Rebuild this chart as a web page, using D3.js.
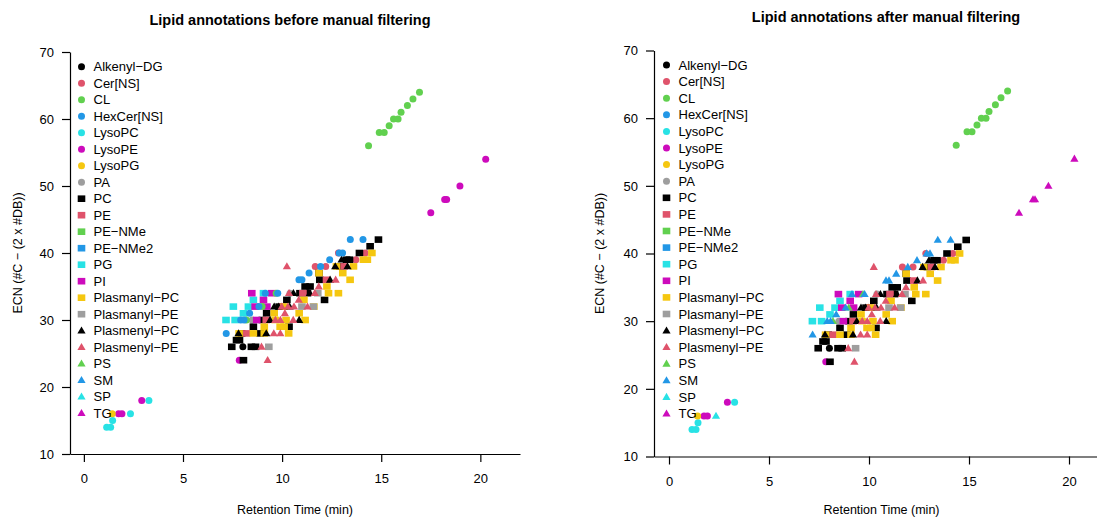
<!DOCTYPE html>
<html>
<head>
<meta charset="utf-8">
<script src="https://cdn.jsdelivr.net/npm/d3@7"></script>
<style>
body { margin: 0; background: #fff; }
text { font-family: "Liberation Sans", Arial, sans-serif; }
</style>
</head>
<body>
<script>
// Lipid annotations: [retention time (min), ECN] per class (after manual filtering)
var alkenylDG = [[8.02, 26]];
var cerNS = [[11.67, 38], [12.2, 38], [12.84, 40], [13.72, 39], [14.19, 40]];
var cl = [[14.36, 56], [14.9, 58], [15.15, 58], [15.4, 59], [15.62, 60], [15.85, 60], [16.0, 61], [16.32, 62], [16.6, 63], [16.93, 64]];
var hexCerNS = [];
var lysoPC = [[1.15, 14], [1.35, 14], [1.45, 15], [3.28, 18]];
var lysoPE = [[1.75, 16], [1.92, 16], [2.92, 18], [7.84, 24]];
var lysoPG = [[1.43, 16]];
var pa = [[10.4, 34], [8.49, 30]];
var pc = [[14.86, 42], [14.44, 41], [13.9, 40], [13.25, 39], [13.4, 39], [12.92, 38], [11.86, 37], [11.9, 36],
  [11.16, 35], [11.41, 35], [10.9, 34], [11.28, 34], [10.24, 33], [12.14, 33], [9.85, 32], [9.22, 31],
  [9.0, 30], [8.55, 29], [10.35, 29], [7.96, 28], [8.89, 28], [7.7, 27], [7.85, 27], [7.46, 26],
  [8.45, 26], [8.66, 26], [8.05, 24]];
var pe = [[13.13, 38], [12.24, 36], [11.05, 34], [9.2, 30], [8.2, 28], [10.0, 32]];
var peNMe = [];
var peNMe2 = [];
var pg = [[9.06, 34], [8.55, 33], [7.54, 32], [8.3, 32], [8.05, 31], [7.17, 30], [7.63, 30]];
var pi = [[8.47, 34], [9.48, 34], [9.06, 33], [8.64, 32], [9.23, 32], [8.72, 30]];
var plasmanylPC = [[14.53, 40], [14.1, 39], [14.3, 39], [13.6, 38], [12.74, 38], [13.06, 37], [11.86, 37],
  [13.43, 36], [12.26, 35], [12.34, 34], [12.84, 34], [11.1, 33], [10.1, 32], [11.6, 32], [9.6, 31],
  [10.86, 31], [9.65, 30], [10.2, 30], [11.16, 30], [9.1, 29], [9.9, 29], [10.1, 29], [7.83, 28],
  [8.55, 28], [9.1, 28], [10.33, 28]];
var plasmanylPE = [[9.33, 26], [11.0, 32], [11.58, 32], [11.8, 34]];
var plasmenylPC = [[13.0, 39], [12.68, 38], [13.3, 38], [12.42, 36], [10.57, 34], [11.4, 34], [9.6, 32],
  [9.83, 32], [10.38, 32], [9.39, 30], [10.86, 30], [7.8, 28], [9.2, 28]];
var plasmenylPE = [[10.24, 38], [12.7, 36], [11.85, 35], [10.35, 34], [11.65, 34], [10.84, 33], [9.98, 32],
  [10.3, 32], [10.6, 32], [11.28, 32], [10.14, 31], [9.66, 30], [9.91, 30], [10.56, 30], [9.58, 28],
  [9.91, 28], [8.96, 26], [9.27, 24]];
var ps = [[9.7, 34], [8.99, 32], [8.2, 30]];
var sm = [[13.44, 42], [14.08, 42], [12.88, 40], [13.05, 40], [12.4, 39], [11.94, 38], [11.36, 37],
  [10.85, 36], [11.0, 36], [9.15, 34], [9.78, 34], [8.83, 32], [8.36, 31], [7.91, 30], [8.08, 30], [7.18, 28]];
var sp = [[2.35, 16]];
var tg = [[17.5, 46], [18.2, 48], [18.3, 48], [18.97, 50], [20.27, 54]];

var classNames = ["Alkenyl\u2212DG", "Cer[NS]", "CL", "HexCer[NS]", "LysoPC", "LysoPE", "LysoPG", "PA",
  "PC", "PE", "PE\u2212NMe", "PE\u2212NMe2", "PG", "PI", "Plasmanyl\u2212PC", "Plasmanyl\u2212PE",
  "Plasmenyl\u2212PC", "Plasmenyl\u2212PE", "PS", "SM", "SP", "TG"];
var classData = [alkenylDG, cerNS, cl, hexCerNS, lysoPC, lysoPE, lysoPG, pa, pc, pe, peNMe, peNMe2, pg, pi,
  plasmanylPC, plasmanylPE, plasmenylPC, plasmenylPE, ps, sm, sp, tg];

// before filtering these were annotated as another class
var beforeLabel = { "SM": "HexCer[NS]", "TG": "LysoPE", "SP": "LysoPC", "PS": "CL" };

var xTicks = [0, 5, 10, 15, 20];
var yTicks = [10, 20, 30, 40, 50, 60, 70];

var pal = ["#000000", "#DF536B", "#61D04F", "#2297E6", "#28E2E5", "#CD0BBC", "#F5C710", "#9E9E9E"];
function shapeOf(i) { return i < 8 ? "circle" : (i < 16 ? "square" : "triangle"); }
function colorOf(i) { return pal[i % 8]; }

var w = 1097, h = 518;
var svg = d3.select("body").append("svg").attr("width", w).attr("height", h);

function mark(sel, shape, color) {
  if (shape == "circle") {
    sel.append("circle").attr("r", 3.5).attr("fill", color);
  } else if (shape == "square") {
    sel.append("rect").attr("x", -3.8).attr("y", -3.3).attr("width", 7.6).attr("height", 6.6).attr("fill", color);
  } else {
    sel.append("path").attr("d", "M0,-4.2L4.1,2.9L-4.1,2.9Z").attr("fill", color);
  }
}

function panel(o) {
  var x = d3.scaleLinear().domain(o.xd).range(o.xr);
  var y = d3.scaleLinear().domain([10, 70]).range(o.yr);
  var g = svg.append("g");

  // points
  var plain = classNames.map(function(c) { return c.replace(/\u2212/g, "-"); });
  var pts = [];
  classData.forEach(function(arr, i) {
    var idx = i;
    if (o.before && beforeLabel[plain[i]]) idx = plain.indexOf(beforeLabel[plain[i]]);
    arr.forEach(function(d) { pts.push({ rt: d[0], ecn: d[1], c: idx }); });
  });
  pts.forEach(function(p) {
    var s = g.append("g").attr("transform", "translate(" + x(p.rt) + "," + y(p.ecn) + ")");
    mark(s, shapeOf(p.c), colorOf(p.c));
  });

  // axes
  var ax = g.append("g").attr("transform", "translate(0," + y(10) + ")")
    .call(d3.axisBottom(x).tickValues(xTicks).tickSize(8).tickSizeOuter(0).tickPadding(12));
  var ay = g.append("g").attr("transform", "translate(" + o.xr[0] + ",0)")
    .call(d3.axisLeft(y).tickValues(yTicks).tickSize(8).tickSizeOuter(0).tickPadding(8));
  [ax, ay].forEach(function(a) {
    a.selectAll("text").attr("font-size", 13).attr("fill", "#000")
      .attr("font-family", "Liberation Sans, Arial, sans-serif");
    a.selectAll("line,path").attr("stroke", "#000").attr("stroke-width", 1.2);
  });

  // titles
  g.append("text").attr("x", o.tx).attr("y", o.ty).attr("text-anchor", "middle")
    .attr("font-size", 14.5).attr("font-weight", "bold").text(o.title);
  g.append("text").attr("x", (o.xr[0] + x(22)) / 2).attr("y", o.xly).attr("text-anchor", "middle")
    .attr("font-size", 12.5).text("Retention Time (min)");
  g.append("text").attr("transform", "translate(" + o.ylx + "," + ((o.yr[0] + o.yr[1]) / 2) + ") rotate(-90)")
    .attr("text-anchor", "middle").attr("font-size", 12.5).text("ECN  (#C \u2212 (2 x #DB))");

  // legend
  classNames.forEach(function(n, i) {
    var ly = o.ly0 + i * o.lstep;
    var s = g.append("g").attr("transform", "translate(" + o.lx + "," + ly + ")");
    mark(s, shapeOf(i), colorOf(i));
    g.append("text").attr("x", o.lx + 12).attr("y", ly).attr("dy", "0.36em")
      .attr("font-size", 13).text(n);
  });
}

panel({ before: true, title: "Lipid annotations before manual filtering",
  xd: [-0.7, 22], xr: [70, 520], yr: [454, 52],
  tx: 290, ty: 25, xly: 514, ylx: 22, lx: 81.5, ly0: 66.7, lstep: 16.5 });

panel({ before: false, title: "Lipid annotations after manual filtering",
  xd: [-0.75, 22], xr: [654, 1109], yr: [456.5, 50.5],
  tx: 886, ty: 22, xly: 514, ylx: 604, lx: 666.5, ly0: 65, lstep: 16.6 });
</script>
</body>
</html>
